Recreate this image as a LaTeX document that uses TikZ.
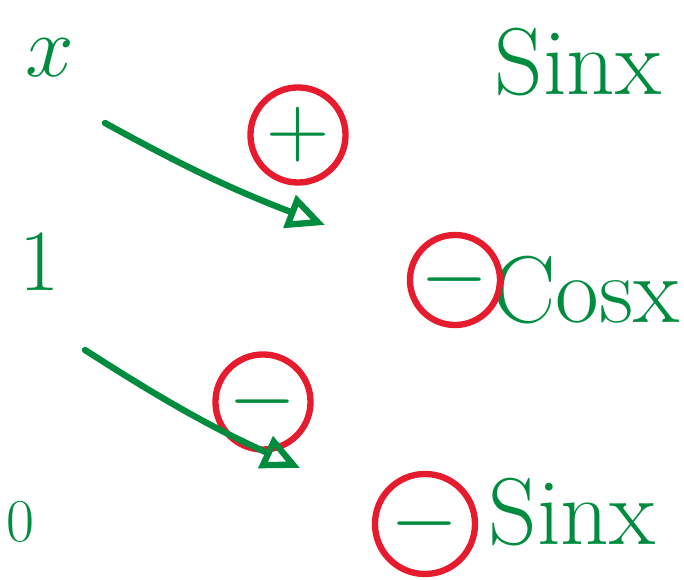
\documentclass[tikz,border=0pt]{standalone}
\usepackage{amsmath}
\usepackage{xcolor}
\usetikzlibrary{arrows.meta}

\definecolor{inkgreen}{RGB}{0,140,62}
\definecolor{inkred}{RGB}{230,28,46}

\begin{document}
\begin{tikzpicture}[x=0.01cm,y=-0.01cm,
    term/.style={inkgreen, font=\fontsize{27}{30}\selectfont, inner sep=0pt},
    sgn/.style={draw=inkred, line width=1.8pt, circle, minimum size=0.95cm,
      inner sep=0pt, text=inkgreen, font=\fontsize{28}{30}\selectfont},
    slide/.style={inkgreen, line width=1.8pt, line cap=round,
      -{Triangle[open, length=0.38cm, width=0.34cm, line width=1.8pt]}}]
  % Frame
  \useasboundingbox (0,0) rectangle (684,580);

  % Left column
  \node[term, font=\fontsize{32}{34}\selectfont] (x) at (50,58) {$x$};
  \node[term] (one) at (40,262) {$1$};
  \node[term, font=\fontsize{16}{18}\selectfont] (zero) at (20,522) {$0$};

  % Right column
  \node[term] (sin) at (578,62) {Sinx};
  \node[term] (cos) at (586,290) {Cosx};
  \node[term] (sintwo) at (572,512) {Sinx};

  % Signs
  \node[sgn] (plus) at (298,135) {$+$};
  \node[sgn] (minusone) at (263,402) {$-$};
  \node[sgn, minimum size=0.9cm] (mcos) at (455,280) {$-$};
  \node[sgn, minimum size=1.0cm] (msin) at (425,524) {$-$};

  % Arrows
  \coordinate (a1s) at (105,123);
  \coordinate (a1e) at (325,225);
  \coordinate (a2s) at (85,350);
  \coordinate (a2e) at (300,468);
  \draw[slide] (a1s) to[bend right=4] (a1e);
  \draw[slide] (a2s) to[bend right=4] (a2e);
\end{tikzpicture}
\end{document}
